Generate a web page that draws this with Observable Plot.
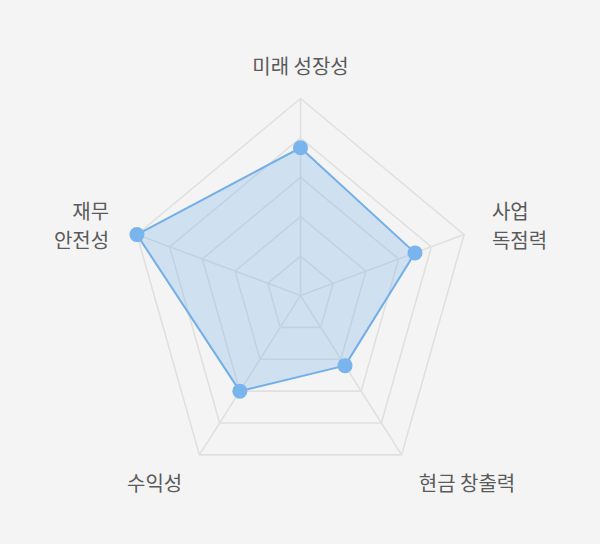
<!DOCTYPE html>
<html>
<head>
<meta charset="utf-8">
<script src="https://cdn.jsdelivr.net/npm/d3@7"></script>
<script src="https://cdn.jsdelivr.net/npm/@observablehq/plot@0.6"></script>
<style>
  html, body { margin: 0; padding: 0; background: #f4f4f4; }
  #chart { width: 600px; height: 544px; }
</style>
</head>
<body>
<div id="chart"></div>
<script>
const axes = ["미래 성장성", "사업\n독점력", "현금 창출력", "수익성", "재무\n안전성"];
const values = [0.75, 0.70, 0.44, 0.60, 1.00];
const levels = [0.2, 0.4, 0.6, 0.8, 1.0];

const W = 600, H = 544;
const cx = 300, cy = 295, rx = 172, ry = 197;
const labelR = 1.17;

const angle = i => Math.PI / 2 - i * 2 * Math.PI / axes.length;
const px = (i, r) => r * Math.cos(angle(i));
const py = (i, r) => r * Math.sin(angle(i));

const rings = levels.flatMap(l => axes.map((a, i) => ({level: l, x: px(i, l), y: py(i, l)})));
const spokes = axes.map((a, i) => ({x: px(i, 1), y: py(i, 1)}));
const pts = axes.map((a, i) => ({axis: a, x: px(i, values[i]), y: py(i, values[i])}));
const labels = axes.map((a, i) => {
  const x = px(i, labelR), y = py(i, labelR);
  return {text: a, x, y, anchor: x > 0.01 ? "start" : x < -0.01 ? "end" : "middle"};
});

const textOpts = anchor => ({
  x: "x", y: "y", text: "text", textAnchor: anchor, lineAnchor: "middle",
  fontSize: 20, fill: "#5a5a5a", lineHeight: 1.42
});

const chart = Plot.plot({
  width: W, height: H,
  marginTop: 0, marginBottom: 0, marginLeft: 0, marginRight: 0,
  style: {background: "#f4f4f4", fontFamily: "'Noto Sans CJK KR', 'Noto Sans', sans-serif"},
  x: {domain: [-cx / rx, (W - cx) / rx], axis: null},
  y: {domain: [-(H - cy) / ry, cy / ry], axis: null},
  marks: [
    Plot.line(rings, {x: "x", y: "y", z: "level", curve: "linear-closed", stroke: "#e0e0e0", strokeWidth: 1.6}),
    Plot.link(spokes, {x1: 0, y1: 0, x2: "x", y2: "y", stroke: "#e0e0e0", strokeWidth: 1.6}),
    Plot.line(pts, {x: "x", y: "y", curve: "linear-closed", fill: "#7ab3ea", fillOpacity: 0.3, stroke: "#72aeea", strokeWidth: 2}),
    Plot.dot(pts, {x: "x", y: "y", r: 7.5, fill: "#7ab4ec"}),
    Plot.text(labels.filter(d => d.anchor === "middle"), textOpts("middle")),
    Plot.text(labels.filter(d => d.anchor === "start"), textOpts("start")),
    Plot.text(labels.filter(d => d.anchor === "end"), textOpts("end"))
  ]
});
document.getElementById("chart").appendChild(chart);
</script>
</body>
</html>
